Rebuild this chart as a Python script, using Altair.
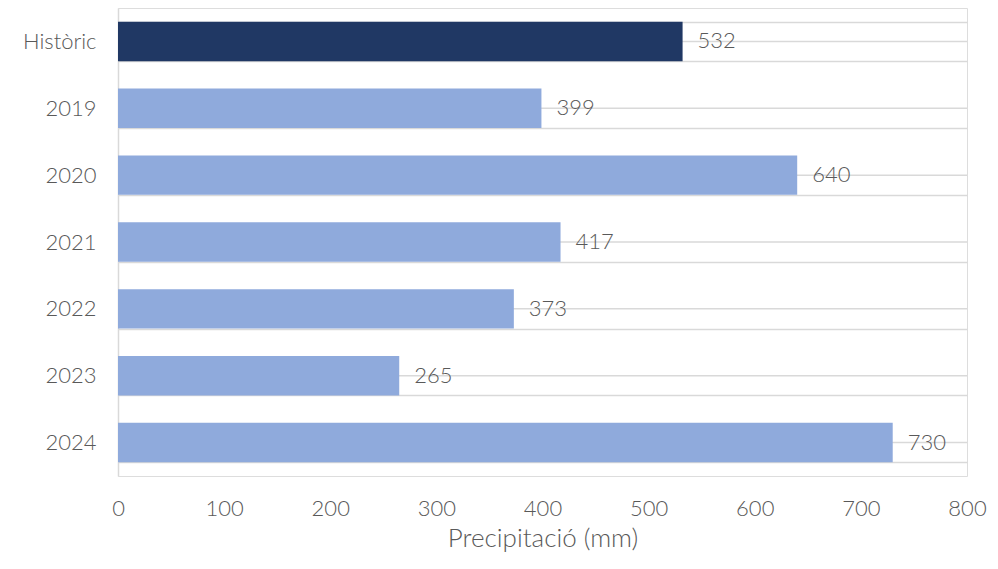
import altair as alt
import pandas as pd

categories = ["Històric", "2019", "2020", "2021", "2022", "2023", "2024"]
values = [532, 399, 640, 417, 373, 265, 730]
kinds = ["hist", "year", "year", "year", "year", "year", "year"]

df = pd.DataFrame({"cat": categories, "val": values, "kind": kinds})

FONT = "Lato"
TXT = "#595959"
GRID = "#D9D9D9"
W, H = 849, 468

yenc = alt.Y("cat:N", sort=categories, title=None,
             scale=alt.Scale(paddingInner=0.41, paddingOuter=0.205),
             axis=alt.Axis(labelFont=FONT, labelFontSize=22, labelFontWeight=300,
                           labelColor=TXT,
                           labelPadding=22, ticks=False, domainColor=GRID,
                           domainWidth=1.5, grid=True, gridColor=GRID,
                           gridWidth=1.5, tickBand="extent"))

xenc = alt.X("val:Q", title="Precipitació (mm)",
             scale=alt.Scale(domain=[0, 800], nice=False),
             axis=alt.Axis(values=[0, 100, 200, 300, 400, 500, 600, 700, 800],
                           labelFont=FONT, labelFontSize=22, labelFontWeight=300,
                           labelColor=TXT, labelFlush=False,
                           labelPadding=22, ticks=False, domain=False, grid=False,
                           titleFont=FONT, titleFontSize=26, titleColor=TXT,
                           titleFontWeight=300, titlePadding=6))

base = alt.Chart(df)

rules = base.mark_rule(color=GRID, strokeWidth=1.5).encode(
    y=yenc, x=alt.value(0), x2=alt.value(W))

bars = base.mark_bar().encode(
    y=yenc, x=xenc,
    color=alt.Color("kind:N", scale=alt.Scale(domain=["hist", "year"],
                                              range=["#203864", "#8FAADC"]),
                    legend=None))

labels = base.mark_text(align="left", baseline="middle", dx=15, font=FONT,
                        fontSize=22, fontWeight=300, color=TXT).encode(
    y=yenc, x=xenc, text=alt.Text("val:Q"))

chart = alt.layer(rules, bars, labels).properties(
    width=W, height=H,
    autosize=alt.AutoSizeParams(type="none"),
    padding={"left": 110, "top": 0, "right": 23, "bottom": 84},
).configure_view(stroke=None).configure(background="white")

chart.save("out.html", embed_options={"renderer": "svg", "actions": False})
